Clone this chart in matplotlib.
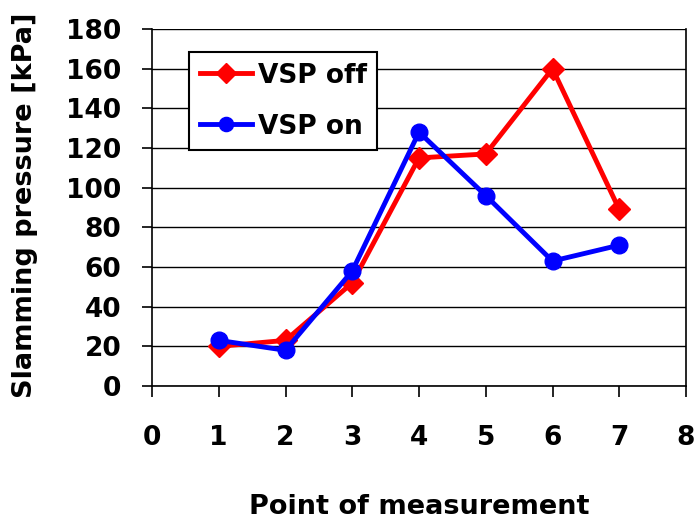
import matplotlib.pyplot as plt

# slamming pressure per measurement point
points = [1, 2, 3, 4, 5, 6, 7]
vsp_off = [20, 23, 52, 115, 117, 160, 89]
vsp_on = [23, 18, 58, 128, 96, 63, 71]

plt.rcParams['font.family'] = ['DejaVu Sans']
plt.rcParams['font.weight'] = 'bold'

fig = plt.figure(figsize=(6.96, 5.2), dpi=100)
ax = fig.add_axes([152/696, 1 - 386/520, 534/696, 357/520])

ax.plot(points, vsp_off, color='#ff0000', lw=3.5, marker='D', ms=11.5, label='VSP off', zorder=3)
ax.plot(points, vsp_on, color='#0000ff', lw=3.5, marker='o', ms=12, label='VSP on', zorder=3)

ax.set_xlim(0, 8)
ax.set_ylim(0, 180)
ax.set_xticks(range(0, 9))
ax.set_yticks(range(0, 181, 20))
ax.yaxis.grid(True, color='black', lw=1.0)
ax.set_axisbelow(True)

for s in ['left', 'bottom', 'right']:
    ax.spines[s].set_linewidth(1.2)
ax.spines['top'].set_visible(False)

ax.tick_params(axis='x', direction='out', length=8, width=1.2, pad=20, labelsize=19)
ax.tick_params(axis='y', direction='out', length=7, width=1.2, pad=15, labelsize=19)

ax.set_xlabel('Point of measurement', fontsize=19.5, fontweight='bold')
ax.set_ylabel('Slamming pressure [kPa]', fontsize=19.5, fontweight='bold')
ax.xaxis.set_label_coords(0.5, -0.302)
ax.yaxis.set_label_coords(-0.213, 0.507)

leg = ax.legend(loc='upper left', bbox_to_anchor=(0.0693, 0.9356), borderaxespad=0,
                fontsize=19, handlelength=2.0, handletextpad=0.2, borderpad=0.4,
                labelspacing=0.95, fancybox=False, framealpha=1, edgecolor='black',
                markerscale=0.85)
leg.get_frame().set_linewidth(1.5)
leg.set_zorder(5)

fig.savefig('out.png', dpi=100)
